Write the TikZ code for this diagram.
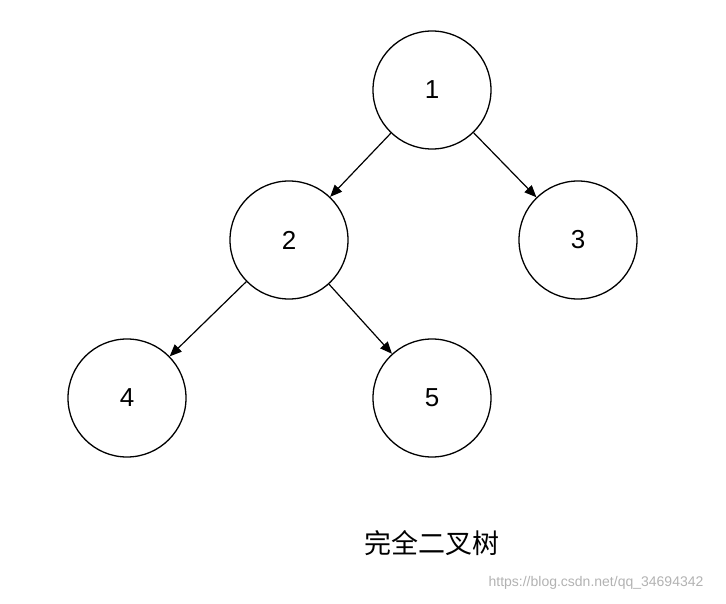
\documentclass[tikz,border=0pt]{standalone}
\usepackage{fontspec}
\setmainfont{Liberation Sans}
\newfontfamily\cjk{Noto Sans CJK SC}
\usetikzlibrary{arrows.meta}
\begin{document}
\begin{tikzpicture}[x=1pt,y=-1pt,->,>={Triangle[length=12pt,width=10pt]},line width=1.2pt]
  \tikzset{treenode/.style={circle,draw=black,line width=1.3pt,minimum size=118pt,inner sep=0pt,font=\fontsize{26}{30}\selectfont}}
  \useasboundingbox (0,0) rectangle (726,604);

  \node[treenode] (n1) at (432,90)  {1};
  \node[treenode] (n2) at (289,240) {2};
  \node[treenode] (n3) at (578,240) {3};
  \node[treenode] (n4) at (127,398) {4};
  \node[treenode] (n5) at (432,398) {5};

  \draw (n1) -- (n2);
  \draw (n1) -- (n3);
  \draw (n2) -- (n4);
  \draw (n2) -- (n5);

  \node (caption) at (432,543) {\cjk\fontsize{27}{32}\selectfont 完全二叉树};
  \node[text=black!30,font=\fontsize{14}{16}\selectfont] (mark) at (596,583) {https://blog.csdn.net/qq\_34694342};
\end{tikzpicture}
\end{document}
